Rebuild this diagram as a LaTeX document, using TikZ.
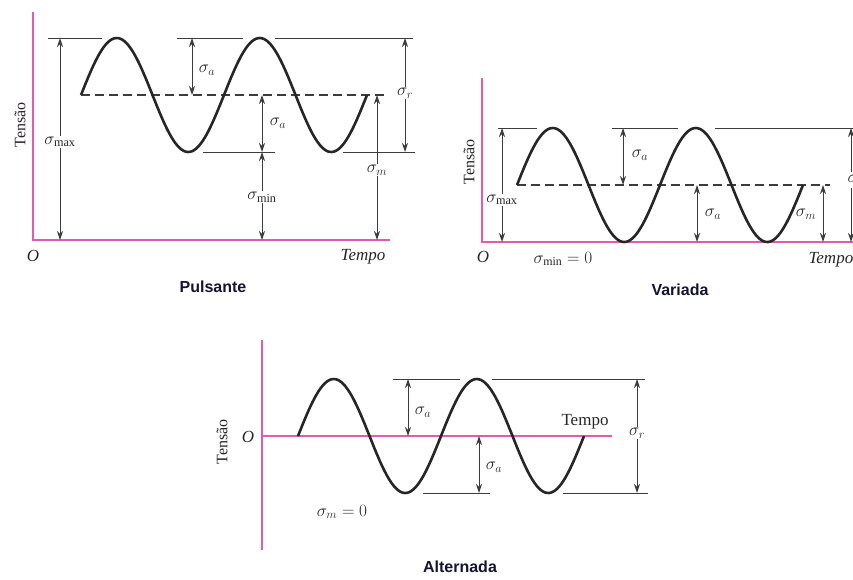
\documentclass[tikz,border=0pt]{standalone}
\usepackage{fontspec}
\setmainfont{Liberation Serif}
\newfontfamily\capfont{Liberation Sans}
\usetikzlibrary{arrows.meta}
\definecolor{axpink}{RGB}{226,92,174}
\definecolor{dimgray}{RGB}{60,60,60}
\definecolor{capblue}{RGB}{20,20,50}
\begin{document}
\begin{tikzpicture}[x=1pt,y=-1pt,
  axis/.style={draw=axpink, line width=1.4pt},
  wave/.style={line width=2.6pt, black!85},
  refline/.style={draw=dimgray, line width=1pt},
  meanline/.style={draw=dimgray, line width=1.1pt, dash pattern=on 9pt off 5pt},
  dim/.style={draw=dimgray, line width=1pt, {Stealth[length=9pt,width=6pt]}-{Stealth[length=9pt,width=6pt]}},
  dimto/.style={draw=dimgray, line width=1pt, -{Stealth[length=9pt,width=6pt]}},
  lbl/.style={font=\fontsize{17.5}{19}\selectfont, inner sep=1pt, text=black!85},
  cutlbl/.style={lbl, fill=white, inner sep=2.5pt},
  ylab/.style={font=\fontsize{16}{18}\selectfont, rotate=90, text=black!85},
  tlab/.style={font=\fontsize{17}{19}\selectfont, text=black!85},
  caption/.style={font=\capfont\bfseries\fontsize{16}{18}\selectfont, text=capblue}]

\useasboundingbox (0,0) rectangle (853,579);
\clip (0,0) rectangle (853,579);

% ================= Panel 1: Pulsante =================
\coordinate (p1top) at (33,12);
\coordinate (p1o) at (33,240);
\coordinate (p1end) at (390,240);
\draw[axis] (p1top) -- (p1o) -- (p1end);
\draw[meanline] (81,95) -- (385,95);
\draw[refline] (48,38) -- (102,38);
\draw[refline] (177,38) -- (243,38);
\draw[refline] (275,38) -- (413,38);
\draw[refline] (203,152) -- (275,152);
\draw[refline] (343,152) -- (415,152);
\draw[wave] plot[domain=81:367,samples=140] (\x,{95-57*sin((\x-81)*2.5175)});

\coordinate (p1smaxT) at (60,38);
\coordinate (p1smaxB) at (60,240);
\node[lbl] (p1smax) at (60,142) {$\sigma_{\max}$};
\draw[dimto] (p1smax) -- (p1smaxT);
\draw[dimto] (p1smax) -- (p1smaxB);

\coordinate (p1saT) at (192,38);
\coordinate (p1saB) at (192,95);
\draw[dim] (p1saT) -- (p1saB);
\node[lbl] (p1sa) at (207,70) {$\sigma_a$};

\coordinate (p1sbT) at (262,95);
\coordinate (p1sbB) at (262,152);
\draw[dim] (p1sbT) -- (p1sbB);
\node[lbl] (p1sb) at (278,123) {$\sigma_a$};

\coordinate (p1sminT) at (262,152);
\coordinate (p1sminB) at (262,240);
\node[lbl] (p1smin) at (262,197) {$\sigma_{\min}$};
\draw[dimto] (p1smin) -- (p1sminT);
\draw[dimto] (p1smin) -- (p1sminB);

\coordinate (p1smT) at (377,95);
\coordinate (p1smB) at (377,240);
\node[lbl] (p1sm) at (377,170) {$\sigma_m$};
\draw[dimto] (p1sm) -- (p1smT);
\draw[dimto] (p1sm) -- (p1smB);

\coordinate (p1srT) at (405,38);
\coordinate (p1srB) at (405,152);
\node[lbl] (p1sr) at (405,93) {$\sigma_r$};
\draw[dimto] (p1sr) -- (p1srT);
\draw[dimto] (p1sr) -- (p1srB);

\node[ylab] (p1y) at (20,125) {Tensão};
\node[tlab] (p1O) at (33,256) {\itshape O};
\node[tlab] (p1t) at (363,257) {\itshape Tempo};
\node[caption] (p1cap) at (213,287) {Pulsante};

% ================= Panel 2: Variada =================
\coordinate (p2top) at (482,78);
\coordinate (p2o) at (482,242);
\coordinate (p2end) at (860,242);
\draw[axis] (p2top) -- (p2o) -- (p2end);
\draw[meanline] (517,185) -- (830,185);
\draw[refline] (498,128) -- (537,128);
\draw[refline] (612,128) -- (678,128);
\draw[refline] (715,128) -- (860,128);
\draw[wave] plot[domain=517:803,samples=140] (\x,{185-57*sin((\x-517)*2.5175)});

\coordinate (p2smaxT) at (502,128);
\coordinate (p2smaxB) at (502,242);
\node[lbl] (p2smax) at (502,200) {$\sigma_{\max}$};
\draw[dimto] (p2smax) -- (p2smaxT);
\draw[dimto] (p2smax) -- (p2smaxB);

\coordinate (p2saT) at (623,128);
\coordinate (p2saB) at (623,185);
\draw[dim] (p2saT) -- (p2saB);
\node[lbl] (p2sa) at (640,155) {$\sigma_a$};

\coordinate (p2sbT) at (697,185);
\coordinate (p2sbB) at (697,242);
\draw[dim] (p2sbT) -- (p2sbB);
\node[lbl] (p2sb) at (713,214) {$\sigma_a$};

\coordinate (p2smT) at (823,185);
\coordinate (p2smB) at (823,242);
\draw[dim] (p2smT) -- (p2smB);
\node[lbl] (p2sm) at (806,214) {$\sigma_m$};

\coordinate (p2srT) at (851,128);
\coordinate (p2srB) at (851,242);
\draw[dim] (p2srT) -- (p2srB);
\node[cutlbl, anchor=west] (p2sr) at (845,180) {$\sigma_r$};

\node[ylab] (p2y) at (469,162) {Tensão};
\node[tlab] (p2O) at (483,257) {\itshape O};
\node[tlab] (p2min) at (563,259) {$\sigma_{\min} = 0$};
\node[tlab, anchor=west] (p2t) at (805,260) {\itshape Tempo};
\node[caption] (p2cap) at (680,290) {Variada};

% ================= Panel 3: Alternada =================
\coordinate (p3top) at (262,340);
\coordinate (p3bot) at (262,550);
\coordinate (p3o) at (262,436);
\coordinate (p3end) at (612,436);
\draw[axis] (p3top) -- (p3bot);
\draw[axis] (p3o) -- (p3end);
\draw[refline] (393,379) -- (460,379);
\draw[refline] (492,379) -- (645,379);
\draw[refline] (423,493) -- (490,493);
\draw[refline] (563,493) -- (648,493);
\draw[wave] plot[domain=298:584,samples=140] (\x,{436-57*sin((\x-298)*2.5175)});

\coordinate (p3saT) at (408,379);
\coordinate (p3saB) at (408,436);
\draw[dim] (p3saT) -- (p3saB);
\node[lbl] (p3sa) at (423,412) {$\sigma_a$};

\coordinate (p3sbT) at (479,436);
\coordinate (p3sbB) at (479,493);
\draw[dim] (p3sbT) -- (p3sbB);
\node[lbl] (p3sb) at (494,467) {$\sigma_a$};

\coordinate (p3srT) at (637,379);
\coordinate (p3srB) at (637,493);
\node[lbl] (p3sr) at (637,433) {$\sigma_r$};
\draw[dimto] (p3sr) -- (p3srT);
\draw[dimto] (p3sr) -- (p3srB);

\node[tlab] (p3t) at (585,422) {Tempo};
\node[tlab] (p3O) at (248,437) {\itshape O};
\node[ylab] (p3y) at (222,442) {Tensão};
\node[tlab] (p3m) at (342,512) {$\sigma_m = 0$};
\node[caption] (p3cap) at (460,567) {Alternada};
\end{tikzpicture}
\end{document}
